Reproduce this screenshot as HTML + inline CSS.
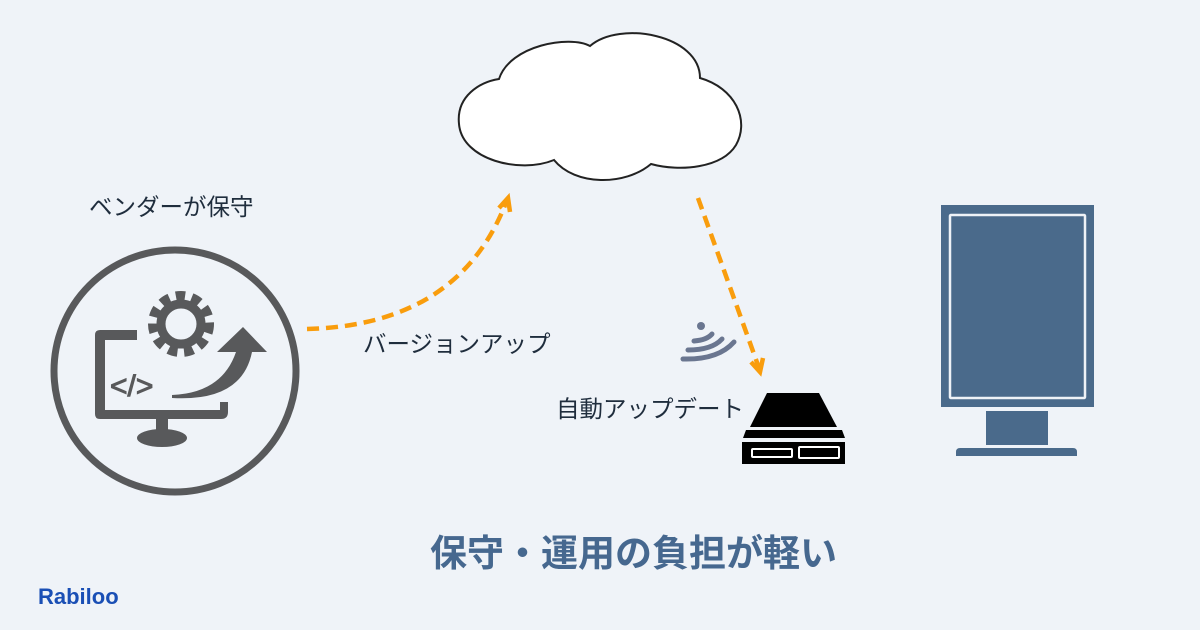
<!DOCTYPE html>
<html><head><meta charset="utf-8"><style>
html,body{margin:0;padding:0;background:#eff3f8;}
body{width:1200px;height:630px;position:relative;overflow:hidden;font-family:"Liberation Sans","Noto Sans CJK JP",sans-serif;}
.t{position:absolute;color:#1f2d3d;font-size:23.5px;white-space:nowrap;line-height:1;}
</style></head><body>
<svg width="1200" height="630" style="position:absolute;left:0;top:0">
<!-- cloud -->
<path d="M499 79 C510 45 570 35 590 46 C620 20 700 35 700 78 C735 88 750 120 736 145 C722 168 680 172 651 164 C625 186 575 186 554 160 C520 174 462 160 459 124 C456 96 480 82 499 79 Z" fill="#fff" stroke="#222" stroke-width="2"/>
<!-- left circle -->
<circle cx="175" cy="371" r="121" fill="none" stroke="#58595b" stroke-width="7"/>
<g fill="#58595b">
<path d="M95 335 q0-5 5-5 h37 v10 h-32 v70 h115 v-8 h8 v10 q0 7-7 7 h-121 q-5 0-5-5z"/>
<rect x="156" y="418" width="12" height="14"/>
<ellipse cx="162" cy="438" rx="25" ry="9"/>
</g>
<g transform="translate(181,324)">
<circle r="26" fill="none" stroke="#58595b" stroke-width="14" stroke-dasharray="8.5 6.2"/>
<circle r="20" fill="none" stroke="#58595b" stroke-width="9"/>
</g>
<text x="110" y="396" font-family="Liberation Sans" font-size="30" fill="#58595b" stroke="#58595b" stroke-width="1">&lt;/&gt;</text>
<path d="M172 395 Q222 393 236 352 L217 352 L243 327 L267 352 L252 352 Q242 402 172 398Z" fill="#58595b"/>
<!-- orange arrows -->
<g fill="none" stroke="#f99d0d" stroke-width="4.5">
<path d="M307 329 Q460 325 507 200" stroke-dasharray="12 7"/>
<path d="M499 208 L508 198 L510 212"/>
<path d="M698 198 L759 368" stroke-dasharray="12 7"/>
<path d="M751 362 L760 372 L763 358"/>
</g>
<!-- wifi -->
<g fill="none" stroke="#6a7690" stroke-width="5" stroke-linecap="round">
<circle cx="701" cy="326" r="4" fill="#6a7690" stroke="none"/>
<path d="M694 341 Q707 340 712 334"/>
<path d="M688 350 Q712 350 722 339"/>
<path d="M683 359 Q718 360 734 342"/>
</g>
<!-- server -->
<path d="M767 393 L819 393 L837 427 L750 427Z" fill="#000"/>
<path d="M746 430 L842 430 L845 438 L743 438Z" fill="#000"/>
<rect x="742" y="442" width="103" height="22" fill="#000"/>
<rect x="752" y="449" width="40" height="8" fill="none" stroke="#fff" stroke-width="2" rx="1"/>
<rect x="799" y="447" width="40" height="11" fill="none" stroke="#fff" stroke-width="2" rx="1"/>
<!-- monitor -->
<rect x="941" y="205" width="153" height="202" fill="#4a6a8b"/>
<rect x="950" y="215" width="135" height="183" fill="none" stroke="#eef2f7" stroke-width="2.5" rx="1"/>
<rect x="986" y="411" width="62" height="34" fill="#4a6a8b"/>
<path d="M956 456 L956 452 Q956 448 960 448 L1073 448 Q1077 448 1077 452 L1077 456Z" fill="#4a6a8b"/>
</svg>
<div class="t" style="left:89px;top:196px;">ベンダーが保守</div>
<div class="t" style="left:363px;top:333px;">バージョンアップ</div>
<div class="t" style="left:556px;top:398px;">自動アップデート</div>
<div class="t" style="left:430px;top:535px;font-size:37px;font-weight:bold;color:#46688f;">保守・運用の負担が軽い</div>
<div class="t" style="left:38px;top:586px;font-size:22px;font-weight:bold;color:#1a4fb5;">Rabiloo</div>
</body></html>
